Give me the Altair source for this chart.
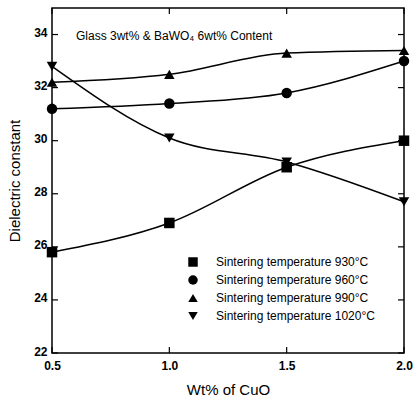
import altair as alt
import pandas as pd

# Wt% of CuO
cuo = [0.5, 1.0, 1.5, 2.0]

# Dielectric constant per sintering temperature
eps_930 = [25.8, 26.9, 29.0, 30.0]
eps_960 = [31.2, 31.4, 31.8, 33.0]
eps_990 = [32.2, 32.5, 33.3, 33.4]
eps_1020 = [32.8, 30.1, 29.2, 27.7]

series_names = [
    "Sintering temperature 930°C",
    "Sintering temperature 960°C",
    "Sintering temperature 990°C",
    "Sintering temperature 1020°C",
]
series_values = [eps_930, eps_960, eps_990, eps_1020]
shapes = ["square", "circle", "triangle-up", "triangle-down"]

y_ticks = [22, 24, 26, 28, 30, 32, 34]
x_ticks = [0.5, 1.0, 1.5, 2.0]

rows = []
for name, vals in zip(series_names, series_values):
    for x, v in zip(cuo, vals):
        rows.append({"cuo": x, "eps": v, "series": name})
df = pd.DataFrame(rows)

W, H = 352, 345
FONT = "Liberation Sans"

x_scale = alt.Scale(domain=[0.5, 2.0], nice=False)
y_scale = alt.Scale(domain=[22, 35], nice=False)

x_enc = alt.X(
    "cuo:Q", scale=x_scale, title="Wt% of CuO",
    axis=alt.Axis(values=x_ticks, format=".1f", ticks=False, domain=False, grid=False,
                  labelFlush=False, labelOverlap=False,
                  labelFont=FONT, labelFontWeight="bold", labelFontSize=12,
                  labelColor="black", labelPadding=7,
                  titleFont=FONT, titleFontWeight="normal", titleFontSize=15,
                  titleColor="black", titlePadding=11),
)
y_enc = alt.Y(
    "eps:Q", scale=y_scale, title="Dielectric constant",
    axis=alt.Axis(values=y_ticks, ticks=False, domain=False, grid=False,
                  labelFlush=False, labelOverlap=False,
                  labelFont=FONT, labelFontWeight="bold", labelFontSize=12,
                  labelColor="black", labelPadding=5, labelBaseline="bottom",
                  labelOffset=5,
                  titleFont=FONT, titleFontWeight="normal", titleFontSize=15,
                  titleColor="black", titlePadding=11),
)

lines = alt.Chart(df).mark_line(color="black", strokeWidth=1.5, interpolate="monotone").encode(
    x=x_enc, y=y_enc, detail="series:N"
)

points = alt.Chart(df).mark_point(filled=True, color="black", size=110, opacity=1).encode(
    x="cuo:Q",
    y="eps:Q",
    shape=alt.Shape(
        "series:N",
        scale=alt.Scale(domain=series_names, range=shapes),
        legend=alt.Legend(
            title=None, orient="none", legendX=135, legendY=248,
            labelFont=FONT, labelFontSize=12, labelColor="black",
            symbolFillColor="black", symbolStrokeColor="black", symbolSize=90,
            rowPadding=2, labelOffset=17,
        ),
    ),
)

# Inward tick marks on all four sides
yt = pd.DataFrame({"v": y_ticks})
xt = pd.DataFrame({"v": x_ticks})
tick_l = alt.Chart(yt).mark_rule(color="black", strokeWidth=1.2).encode(
    y=alt.Y("v:Q", scale=y_scale), x=alt.value(0), x2=alt.value(6))
tick_r = alt.Chart(yt).mark_rule(color="black", strokeWidth=1.2).encode(
    y=alt.Y("v:Q", scale=y_scale), x=alt.value(W - 6), x2=alt.value(W))
tick_b = alt.Chart(xt).mark_rule(color="black", strokeWidth=1.2).encode(
    x=alt.X("v:Q", scale=x_scale), y=alt.value(H - 6), y2=alt.value(H))
tick_t = alt.Chart(xt).mark_rule(color="black", strokeWidth=1.2).encode(
    x=alt.X("v:Q", scale=x_scale), y=alt.value(0), y2=alt.value(6))

label = alt.Chart(pd.DataFrame({"t": ["Glass 3wt% & BaWO\u2084 6wt% Content"]})).mark_text(
    align="left", baseline="middle", font=FONT, fontSize=12, color="black"
).encode(x=alt.value(24), y=alt.value(28), text="t:N")

chart = alt.layer(lines, points, tick_l, tick_r, tick_b, tick_t, label).properties(
    width=W, height=H,
    padding={"left": 52, "top": 8, "right": 10, "bottom": 49},
    autosize=alt.AutoSizeParams(type="none"),
    background="white",
).configure_view(stroke="black", strokeWidth=1.5)

chart.save("out.html", embed_options={"renderer": "svg", "actions": False})
